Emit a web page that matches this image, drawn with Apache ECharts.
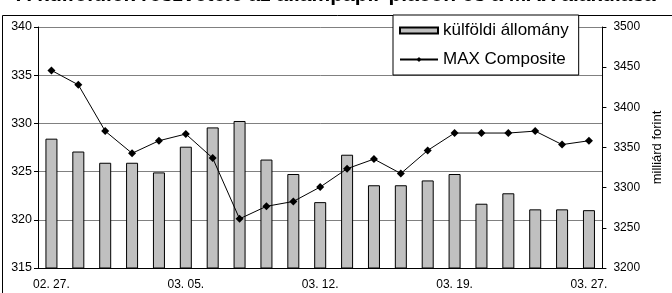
<!DOCTYPE html>
<html>
<head>
<meta charset="utf-8">
<script src="https://cdn.jsdelivr.net/npm/echarts@6/dist/echarts.min.js"></script>
<style>
  html, body { margin: 0; padding: 0; background: #fff; }
  #chart { width: 672px; height: 293px; }
</style>
</head>
<body>
<div id="chart"></div>
<script>
// dátumok (kereskedési napok)
var dates = ['02. 27.', '02. 28.', '03. 01.', '03. 02.', '03. 03.', '03. 05.', '03. 06.',
  '03. 07.', '03. 08.', '03. 09.', '03. 12.', '03. 13.', '03. 14.', '03. 15.', '03. 16.',
  '03. 19.', '03. 20.', '03. 21.', '03. 22.', '03. 23.', '03. 27.'];
// külföldi állomány, milliárd forint (jobb tengely)
var kulfoldi = [3361, 3345, 3331, 3331, 3319, 3351, 3375, 3383, 3335, 3317, 3282,
  3341, 3303, 3303, 3309, 3317, 3280, 3293, 3273, 3273, 3272];
// MAX Composite (bal tengely)
var maxComp = [335.5, 334.0, 329.2, 326.9, 328.2, 328.9, 326.4, 320.1, 321.4, 321.9, 323.4,
  325.3, 326.3, 324.8, 327.2, 329.0, 329.0, 329.0, 329.2, 327.8, 328.2];

var font = 'Liberation Sans, Arial, sans-serif';
var chart = echarts.init(document.getElementById('chart'), null, { renderer: 'canvas' });

var option = {
  animation: false,
  textStyle: { fontFamily: font, color: '#000' },
  title: {
    text: 'A külföldiek részvétele az állampapír-piacon és a MAX alakulása',
    left: 'center',
    top: -20,
    textStyle: { fontFamily: font, fontSize: 21, fontWeight: 'bold', color: '#000' }
  },
  graphic: [{
    type: 'rect',
    shape: { x: 2.5, y: 15.5, width: 700, height: 300 },
    style: { fill: 'none', stroke: '#000', lineWidth: 1 },
    z: -1
  }],
  legend: {
    orient: 'vertical',
    left: 393,
    top: 15,
    padding: [7, 10, 7, 6],
    itemGap: 12,
    itemWidth: 38,
    itemHeight: 6,
    backgroundColor: '#fff',
    borderColor: '#000',
    borderWidth: 1,
    textStyle: { fontFamily: font, fontSize: 17, color: '#000' },
    data: [{ name: 'külföldi állomány', icon: 'rect' }, 'MAX Composite']
  },
  grid: { left: 38, right: 56, top: 27, bottom: 25 },
  xAxis: {
    type: 'category',
    data: dates,
    boundaryGap: true,
    axisLine: { lineStyle: { color: '#000', width: 1 } },
    axisTick: { show: false },
    axisLabel: { interval: 4, margin: 11, fontSize: 12, color: '#000', fontFamily: font }
  },
  yAxis: [{
    type: 'value',
    min: 315, max: 340, interval: 5,
    axisLine: { show: true, lineStyle: { color: '#000' } },
    axisTick: { show: true, length: 4, lineStyle: { color: '#000' } },
    axisLabel: { margin: 6, fontSize: 12.5, color: '#000', fontFamily: font },
    splitLine: { show: true, lineStyle: { color: '#808080', width: 1 } }
  }, {
    type: 'value',
    min: 3200, max: 3500, interval: 50,
    position: 'right',
    name: 'milliárd forint',
    nameLocation: 'middle',
    nameRotate: 90,
    nameGap: 47,
    nameTextStyle: { fontSize: 13, color: '#000', fontFamily: font },
    axisLine: { show: true, lineStyle: { color: '#000' } },
    axisTick: { show: true, length: 4, lineStyle: { color: '#000' } },
    axisLabel: {
      margin: 11, fontSize: 12, color: '#000', fontFamily: font,
      formatter: function (v) { return String(v); }
    },
    splitLine: { show: false }
  }],
  series: [{
    name: 'külföldi állomány',
    type: 'bar',
    yAxisIndex: 1,
    data: kulfoldi,
    barWidth: 12,
    itemStyle: { color: '#c0c0c0', borderColor: '#000', borderWidth: 1 }
  }, {
    name: 'MAX Composite',
    type: 'line',
    yAxisIndex: 0,
    data: maxComp,
    symbol: 'diamond',
    symbolSize: 8,
    lineStyle: { color: '#000', width: 1 },
    itemStyle: { color: '#000' },
    z: 3
  }]
};

chart.setOption(option);
</script>
</body>
</html>
